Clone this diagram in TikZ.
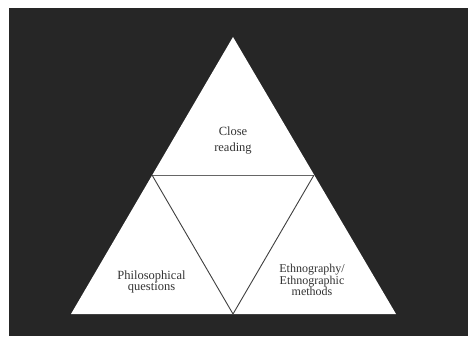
\documentclass[tikz,border=0pt]{standalone}
\usepackage{fontspec}
\setmainfont{Liberation Serif}
\begin{document}
\begin{tikzpicture}[x=1pt,y=1pt,
  lbl/.style={text=black!80, align=center, inner sep=0pt, font=\fontsize{12.5}{11.5}\selectfont},
  edge/.style={draw=black!75, line width=0.9pt}]
\useasboundingbox (0,0) rectangle (468,-337);
\fill[white] (0,0) rectangle (468,-337);
\fill[black!85] (9,-8) rectangle (468,-336);
% vertices
\coordinate (apex) at (233,-37);
\coordinate (bl) at (71,-314);
\coordinate (br) at (396,-314);
\coordinate (ml) at (152,-175);
\coordinate (mr) at (314,-175);
\coordinate (mb) at (233,-314);
\fill[white] (apex) -- (bl) -- (br) -- cycle;
\draw[draw=black!60, line width=0.7pt] (ml) -- (mr);
\draw[edge] (ml) -- (mb) -- (mr);
\node[lbl, font=\fontsize{12.5}{16}\selectfont] (close) at (233,-141) {Close\\reading};
\node[lbl] (phil) at (151.5,-282) {Philosophical\\questions};
\node[lbl, font=\fontsize{12}{11.5}\selectfont] (eth) at (312,-280) {Ethnography/\\Ethnographic\\methods};
\end{tikzpicture}
\end{document}
